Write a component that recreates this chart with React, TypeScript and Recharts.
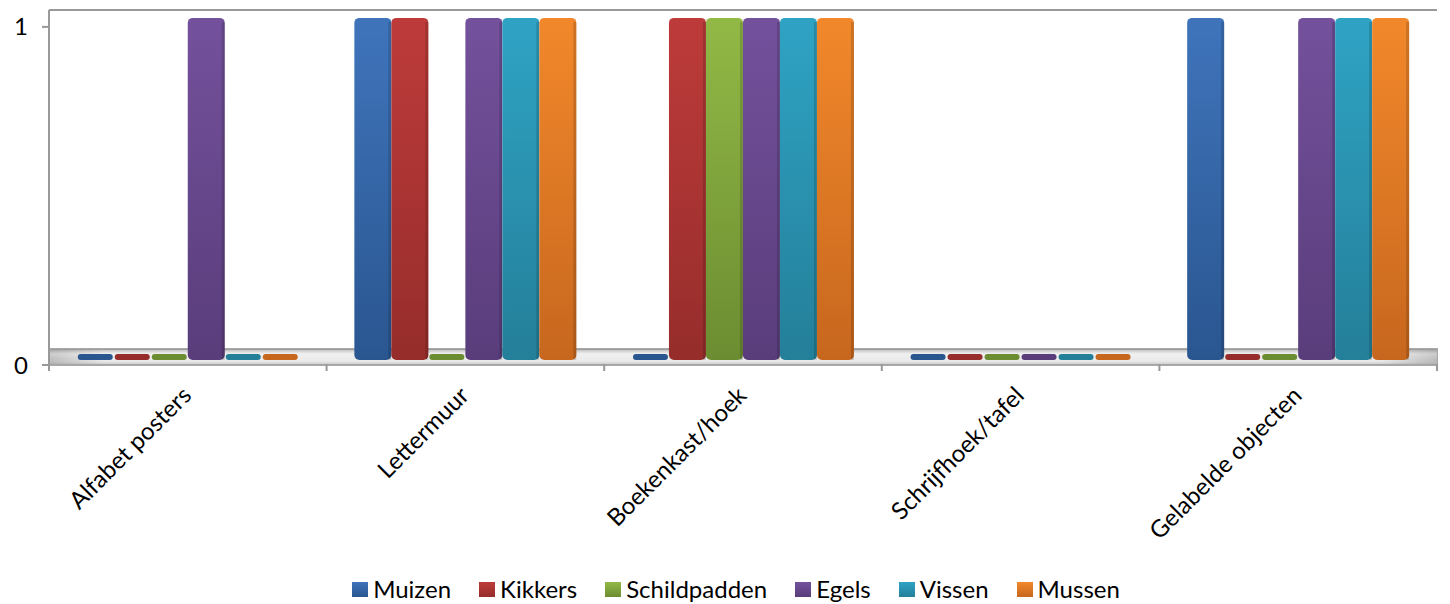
import React from "react";
import {
  BarChart,
  Bar,
  XAxis,
  YAxis,
  Legend,
  ReferenceArea,
  ReferenceLine,
} from "recharts";

const categories = ["Alfabet posters", "Lettermuur", "Boekenkast/hoek", "Schrijfhoek/tafel", "Gelabelde objecten"];
const muizen = [0, 1, 0, 0, 1];
const kikkers = [0, 1, 1, 0, 0];
const schildpadden = [0, 0, 1, 0, 0];
const egels = [1, 1, 1, 0, 1];
const vissen = [0, 1, 1, 0, 1];
const mussen = [0, 1, 1, 0, 1];
const yTicks = [0, 1];

const seriesNames = ["Muizen", "Kikkers", "Schildpadden", "Egels", "Vissen", "Mussen"];
const seriesValues = [muizen, kikkers, schildpadden, egels, vissen, mussen];
const colors = [
  ["#3f74bb", "#2a5690"],
  ["#bd3b3a", "#962d2b"],
  ["#92b946", "#6c8c31"],
  ["#74519c", "#593d7b"],
  ["#2fa3c4", "#247f99"],
  ["#f2882b", "#c7671e"],
];

const data = categories.map((name, i) => {
  const row: Record<string, any> = { name };
  seriesNames.forEach((s, k) => (row[s] = seriesValues[k][i]));
  return row;
});

const W = 1450;
const H = 604;
const M = { top: 10, right: 13, left: 0, bottom: 0 };
const YW = 49;
const PLOT_W = W - YW - M.right;
const BAND = PLOT_W / categories.length;
const FONT = "Lato, 'Open Sans', sans-serif";

function BarShape(props: any) {
  const { x, y, width, height, index, k } = props;
  const base = y + height - 5;
  const val = props.value;
  const v = Array.isArray(val) ? val[1] - val[0] : val;
  if (!v) {
    // flat bar lying on the floor for zero values
    return <rect x={x + 1} y={base - 6} width={width - 2} height={6} rx={3} fill={colors[k][1]} key={index} />;
  }
  const top = y - 9;
  return (
    <g key={index}>
      <rect x={x} y={top} width={width} height={base - top} rx={5} fill={`url(#g${k})`} />
      <rect x={x + width - 3} y={top + 4} width={3} height={base - top - 4} fill="#000" opacity={0.15} />
    </g>
  );
}

function XTick(props: any) {
  const { x, y, payload, index } = props;
  const left = x - BAND / 2;
  return (
    <g>
      <line x1={left} y1={y - 9} x2={left} y2={y - 2} stroke="#999" strokeWidth={2} />
      {index === categories.length - 1 && (
        <line x1={x + BAND / 2} y1={y - 9} x2={x + BAND / 2} y2={y - 2} stroke="#999" strokeWidth={2} />
      )}
      <text
        x={x + 5}
        y={y + 24}
        textAnchor="end"
        transform={`rotate(-45, ${x + 5}, ${y + 24})`}
        fontSize={24}
        fontFamily={FONT}
        fill="#000"
      >
        {payload.value}
      </text>
    </g>
  );
}

function LegendContent() {
  return (
    <div
      style={{
        display: "flex",
        justifyContent: "center",
        fontFamily: FONT,
        fontSize: 24,
        lineHeight: "30px",
        height: 30,
        color: "#000",
        paddingLeft: 22,
      }}
    >
      {seriesNames.map((s, k) => (
        <div key={s} style={{ display: "flex", alignItems: "center", marginRight: k < seriesNames.length - 1 ? 28 : 0 }}>
          <span
            style={{
              display: "inline-block",
              width: 16,
              height: 15,
              marginRight: 5,
              background: `linear-gradient(${colors[k][0]}, ${colors[k][1]})`,
            }}
          />
          {s}
        </div>
      ))}
    </div>
  );
}

export default function App() {
  return (
    <div style={{ width: W, height: H, background: "#fff" }}>
      <style>{`body{margin:0}`}</style>
      <BarChart
        width={W}
        height={H}
        data={data}
        margin={M}
        barGap={0}
        barCategoryGap="10%"
      >
        <defs>
          {colors.map((c, k) => (
            <linearGradient key={k} id={`g${k}`} x1="0" y1="0" x2="0" y2="1">
              <stop offset="0%" stopColor={c[0]} />
              <stop offset="100%" stopColor={c[1]} />
            </linearGradient>
          ))}
          <linearGradient id="floorH" x1="0" y1="0" x2="1" y2="0">
            <stop offset="0%" stopColor="#aaaaaa" />
            <stop offset="4%" stopColor="#e6e6e6" />
            <stop offset="96%" stopColor="#e6e6e6" />
            <stop offset="100%" stopColor="#aaaaaa" />
          </linearGradient>
          <linearGradient id="floorV" x1="0" y1="0" x2="0" y2="1">
            <stop offset="0%" stopColor="#888" stopOpacity={0.5} />
            <stop offset="30%" stopColor="#fff" stopOpacity={0.4} />
            <stop offset="70%" stopColor="#fff" stopOpacity={0.2} />
            <stop offset="100%" stopColor="#999" stopOpacity={0.5} />
          </linearGradient>
        </defs>
        <XAxis
          dataKey="name"
          axisLine={false}
          tickLine={false}
          tick={<XTick />}
          interval={0}
          height={209}
        />
        <YAxis
          width={YW}
          domain={[0, 1.05]}
          ticks={yTicks}
          allowDataOverflow
          axisLine={{ stroke: "#999", strokeWidth: 2 }}
          tickLine={{ stroke: "#999", strokeWidth: 2 }}
          tickSize={7}
          tickMargin={14}
          tick={{ fontSize: 24, fill: "#000", fontFamily: FONT }}
        />
        <ReferenceLine y={1.05} stroke="#999" strokeWidth={2} />
        <ReferenceArea y1={0} y2={0.047} fill="url(#floorH)" fillOpacity={1} stroke="#a8a8a8" strokeWidth={2} />
        <ReferenceArea y1={0} y2={0.047} fill="url(#floorV)" fillOpacity={1} stroke="none" />
        {seriesNames.map((s, k) => (
          <Bar
            key={s}
            dataKey={s}
            isAnimationActive={false}
            shape={(p: any) => <BarShape {...p} k={k} />}
          />
        ))}
        <Legend content={<LegendContent />} wrapperStyle={{ top: 574, left: 0, width: W, height: 30 }} />
      </BarChart>
    </div>
  );
}
